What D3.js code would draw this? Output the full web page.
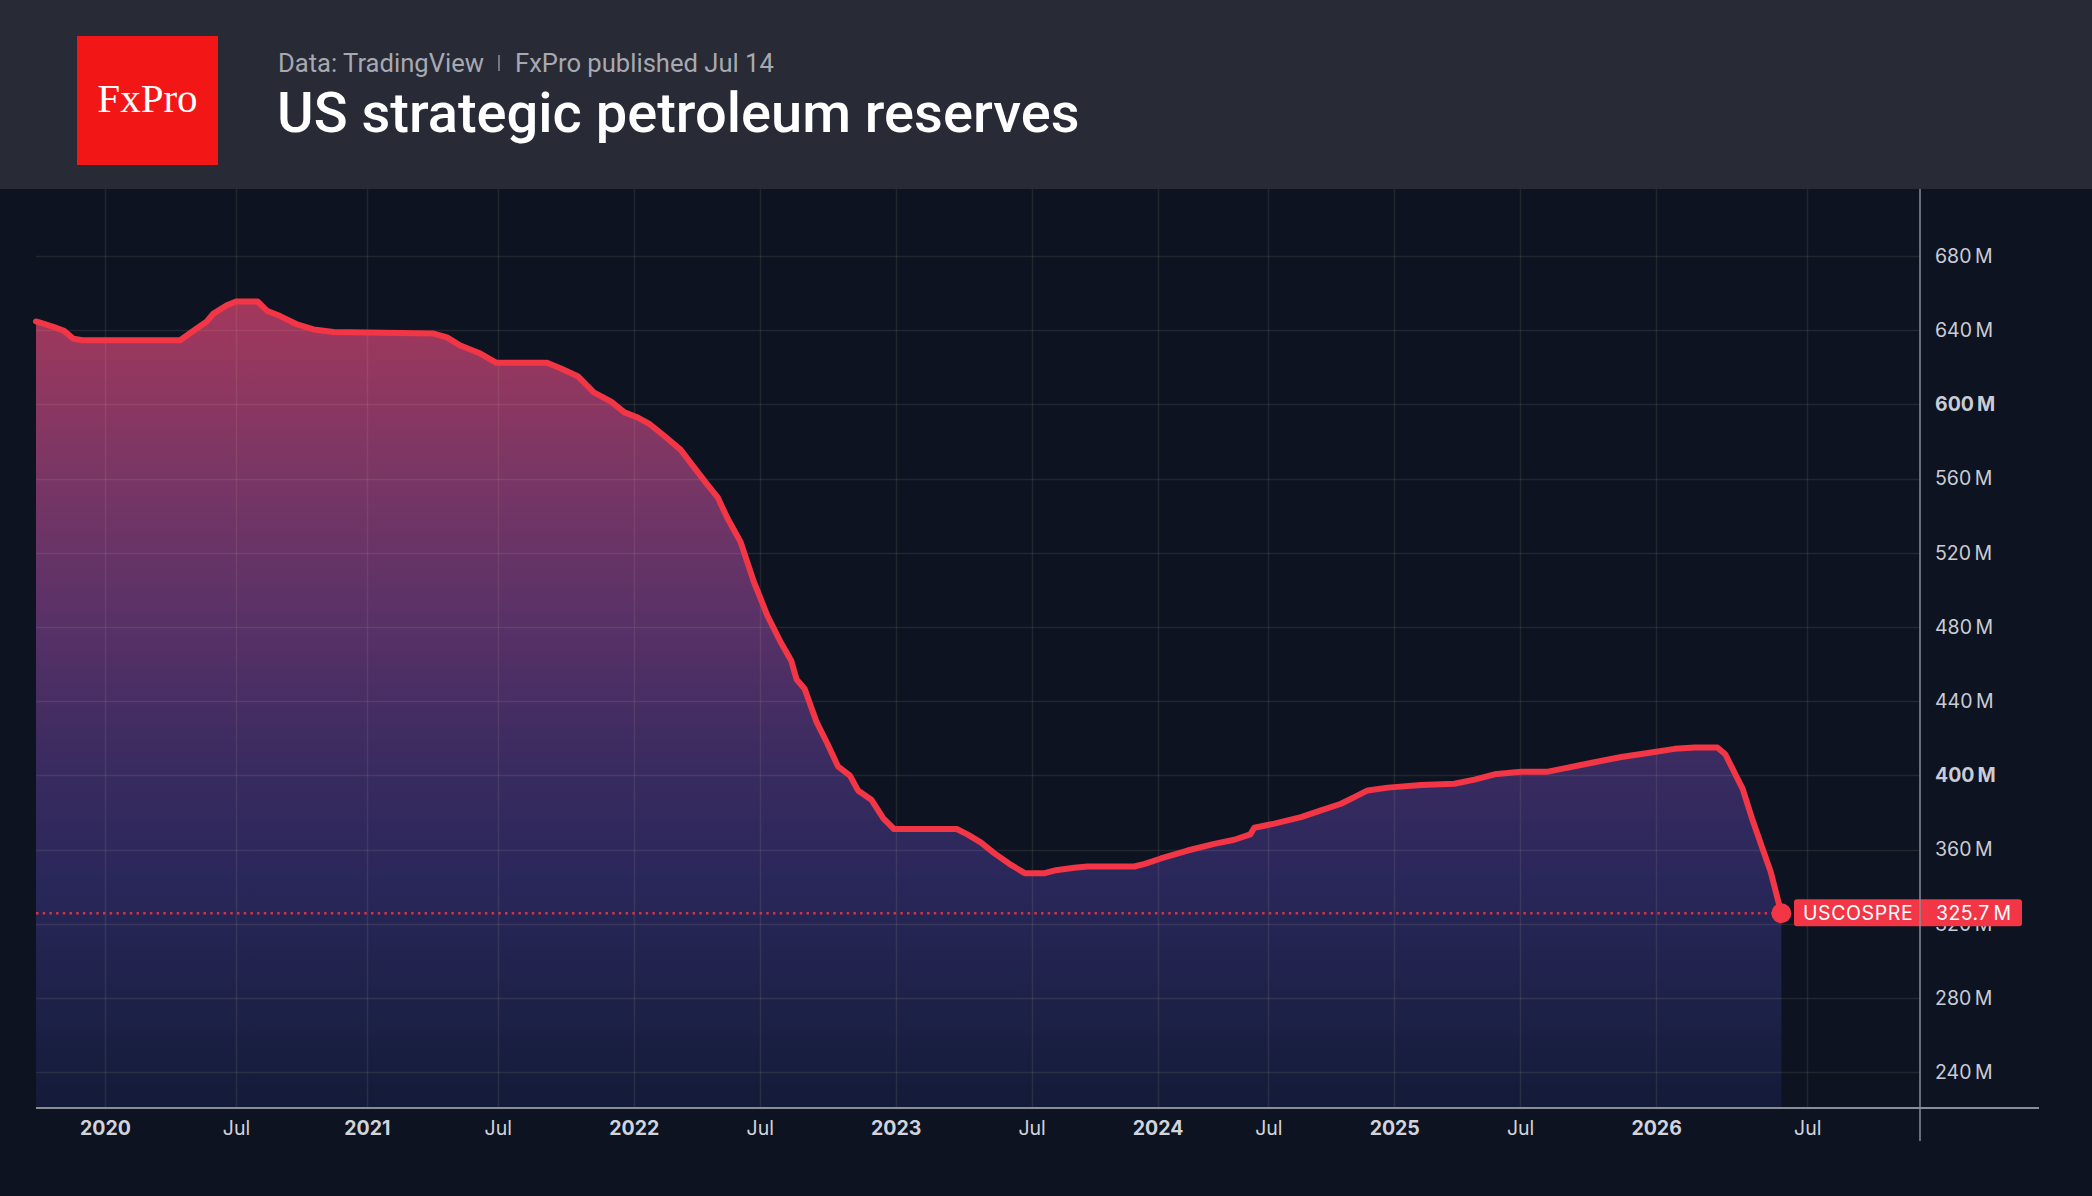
<!DOCTYPE html>
<html>
<head>
<meta charset="utf-8">
<script src="https://cdn.jsdelivr.net/npm/d3@7/dist/d3.min.js"></script>
<style>
  html, body { margin: 0; padding: 0; background: #0d1320; }
  svg { display: block; }
</style>
</head>
<body>
<svg id="chart" width="2092" height="1196"></svg>
<script>
// ---- Data (x = weekly bar index since first week of 2020, TradingView bar-indexed time axis) ----
const weekIndex = [-13.7, -10.25, -8.13, -6.28, -4.42, 14.92, 17.57, 20.22, 21.54, 24.19, 26.05, 30.29, 32.14, 34.79, 37.97, 41.42, 45.39, 65.26, 67.91, 70.56, 74.54, 77.72, 87.78, 90.43, 93.88, 97.06, 100.5, 103.15, 105.8, 108.19, 110.84, 114.28, 116.93, 119.58, 121.7, 123.55, 126.2, 128.85, 131.5, 134.15, 136.27, 137.33, 138.92, 141.31, 143.43, 145.54, 147.93, 149.52, 152.17, 154.55, 156.67, 169.13, 171.25, 173.9, 176.55, 179.99, 182.64, 186.61, 188.47, 192.44, 195.09, 204.37, 206.49, 209.67, 214.96, 220.26, 224.24, 227.42, 228.21, 232.19, 237.49, 241.46, 245.43, 248.08, 250.73, 254.71, 261.33, 267.96, 271.93, 275.91, 281.2, 286.5, 290.48, 295.78, 301.08, 306.38, 311.67, 315.65, 320.15, 321.74, 323.6, 325.19, 327.04, 328.9, 330.75, 332.87];
const reservesM = [644.7, 641.8, 639.7, 635.4, 634.6, 634.6, 639.7, 644.7, 649.0, 653.4, 655.5, 655.5, 650.5, 647.6, 643.3, 640.4, 639.0, 638.2, 636.1, 631.7, 627.4, 622.4, 622.4, 619.5, 615.2, 606.5, 601.5, 595.7, 592.9, 589.3, 583.5, 575.6, 566.2, 556.9, 549.7, 538.9, 525.9, 504.3, 486.3, 471.9, 461.8, 451.7, 446.7, 428.7, 417.2, 404.9, 399.9, 391.9, 386.9, 376.8, 371.1, 371.1, 368.2, 363.9, 358.1, 351.6, 347.3, 347.3, 348.7, 350.2, 350.9, 350.9, 352.3, 355.2, 359.5, 363.1, 365.3, 368.2, 371.8, 374.0, 377.5, 381.1, 384.7, 388.3, 391.9, 393.4, 394.8, 395.5, 397.7, 400.6, 402.0, 402.0, 404.2, 407.1, 409.9, 412.1, 414.3, 415.0, 415.0, 411.4, 401.3, 392.7, 376.8, 362.4, 348.0, 325.7];

const xTickWeeks = [0, 26, 52, 78, 105, 130, 157, 184, 209, 231, 256, 281, 308, 338];
const xTickLabels = ["2020", "Jul", "2021", "Jul", "2022", "Jul", "2023", "Jul", "2024", "Jul", "2025", "Jul", "2026", "Jul"];
const yTickValues = [240, 280, 320, 360, 400, 440, 480, 520, 560, 600, 640, 680];
const yBoldTicks = [400, 600];

const seriesName = "USCOSPRE";
const lastValue = 325.7;
const titleText = "US strategic petroleum reserves";
const sourceText = "Data: TradingView";
const publishText = "FxPro published Jul 14";
const logoText = "FxPro";

// ---- Layout ----
const W = 2092, H = 1196;
const headerH = 189;
const plotLeft = 36, plotRight = 1920, plotTop = 189, plotBottom = 1108;

const svg = d3.select("#chart");
const defs = svg.append("defs");

const x = d3.scaleLinear().domain([-13.7, 360.4]).range([plotLeft, plotRight]);
const y = d3.scaleLinear().domain([220.7, 716.1]).range([plotBottom, plotTop]);

const data = weekIndex.map((w, i) => ({ w, v: reservesM[i] }));

// background
svg.append("rect").attr("x", 0).attr("y", 0).attr("width", W).attr("height", H).attr("fill", "#0d1320");

// header
svg.append("rect").attr("x", 0).attr("y", 0).attr("width", W).attr("height", headerH).attr("fill", "#282a36");
svg.append("rect").attr("x", 77).attr("y", 36).attr("width", 141).attr("height", 129).attr("fill", "#f31616");
svg.append("text").attr("x", 147.5).attr("y", 112).attr("text-anchor", "middle")
  .attr("font-family", "'Liberation Serif', 'DejaVu Serif', serif").attr("font-size", 41)
  .attr("fill", "#ffffff").text(logoText);

const sub = svg.append("text").attr("x", 278).attr("y", 72)
  .attr("font-family", "Roboto, sans-serif").attr("font-size", 25.6).attr("fill", "#a7a9b1");
sub.append("tspan").text(sourceText);
sub.append("tspan").attr("dx", 31).text(publishText);
// separator
const srcW = (function(){ const t = svg.append("text").attr("font-family","Roboto, sans-serif").attr("font-size",25.6).text(sourceText); const w = t.node().getComputedTextLength(); t.remove(); return w; })();
svg.append("line").attr("x1", 278 + srcW + 15).attr("x2", 278 + srcW + 15).attr("y1", 55).attr("y2", 71)
  .attr("stroke", "#8d909a").attr("stroke-width", 1.5);

svg.append("text").attr("x", 277).attr("y", 132)
  .attr("font-family", "Roboto, sans-serif").attr("font-weight", 500).attr("font-size", 56)
  .attr("fill", "#ffffff").text(titleText);

// area gradient
const grad = defs.append("linearGradient").attr("id", "areaGrad")
  .attr("gradientUnits", "userSpaceOnUse").attr("x1", 0).attr("x2", 0)
  .attr("y1", y(655)).attr("y2", plotBottom);
[[0, "#a3385c"], [0.22, "#783665"], [0.4, "#583167"], [0.57, "#3a2b60"], [0.72, "#29275a"], [0.86, "#1e2249"], [1, "#131b38"]]
  .forEach(([o, c]) => grad.append("stop").attr("offset", o).attr("stop-color", c));

// area
const area = d3.area().x(d => x(d.w)).y0(plotBottom).y1(d => y(d.v));
svg.append("path").datum(data).attr("d", area).attr("fill", "url(#areaGrad)");

// grid
const gridColor = "rgba(225,205,180,0.10)";
svg.append("g").selectAll("line").data(yTickValues).join("line")
  .attr("x1", plotLeft).attr("x2", plotRight)
  .attr("y1", d => Math.round(y(d)) + 0.5).attr("y2", d => Math.round(y(d)) + 0.5)
  .attr("stroke", gridColor).attr("stroke-width", 1.5);
svg.append("g").selectAll("line").data(xTickWeeks).join("line")
  .attr("x1", d => Math.round(x(d)) + 0.5).attr("x2", d => Math.round(x(d)) + 0.5)
  .attr("y1", plotTop).attr("y2", plotBottom)
  .attr("stroke", gridColor).attr("stroke-width", 1.5);

// dotted last-value line
svg.append("line").attr("x1", plotLeft).attr("x2", x(weekIndex[weekIndex.length - 1]))
  .attr("y1", y(lastValue)).attr("y2", y(lastValue))
  .attr("stroke", "#f23645").attr("stroke-width", 2.5).attr("stroke-dasharray", "2.5 4.2").attr("opacity", 0.85);

// line
const line = d3.line().x(d => x(d.w)).y(d => y(d.v));
svg.append("path").datum(data).attr("d", line).attr("fill", "none")
  .attr("stroke", "#f23645").attr("stroke-width", 6)
  .attr("stroke-linejoin", "round").attr("stroke-linecap", "round");

// end dot
svg.append("circle").attr("cx", x(weekIndex[weekIndex.length - 1])).attr("cy", y(lastValue)).attr("r", 10).attr("fill", "#f23645");

// y axis labels
const yAxis = d3.axisRight(y).tickValues(yTickValues).tickSize(0).tickPadding(0)
  .tickFormat(d => d + "\u2009M");
const gy = svg.append("g").attr("transform", `translate(${plotRight + 15},0)`).call(yAxis);
gy.select(".domain").remove();
gy.selectAll("text").attr("font-family", "Inter, sans-serif").attr("font-size", 19.5)
  .attr("fill", "#c9ccd4").attr("font-weight", d => yBoldTicks.includes(d) ? 700 : 400);

// x axis labels
const xAxis = d3.axisBottom(x).tickValues(xTickWeeks).tickSize(0).tickPadding(0)
  .tickFormat((d, i) => xTickLabels[i]);
const gx = svg.append("g").attr("transform", `translate(0,${plotBottom + 13})`).call(xAxis);
gx.select(".domain").remove();
gx.selectAll("text").attr("font-family", "Inter, sans-serif").attr("font-size", 19.5)
  .attr("fill", "#d1d4dc").attr("font-weight", (d, i) => xTickLabels[i] === "Jul" ? 400 : 700);

// price tag
const tagY = y(lastValue);
svg.append("rect").attr("x", 1794).attr("y", tagY - 14).attr("width", 228).attr("height", 27).attr("rx", 3).attr("fill", "#f23645");
svg.append("text").attr("x", 1803).attr("y", tagY + 7).attr("font-family", "Inter, sans-serif").attr("font-size", 19.5)
  .attr("letter-spacing", 0.6).attr("fill", "#ffffff").text(seriesName);
svg.append("text").attr("x", plotRight + 16).attr("y", tagY + 7).attr("font-family", "Inter, sans-serif").attr("font-size", 19.5)
  .attr("letter-spacing", 0.4).attr("fill", "#ffffff").text(lastValue + "\u2009M");

// axis lines
svg.append("line").attr("x1", plotLeft).attr("x2", 2039).attr("y1", plotBottom).attr("y2", plotBottom)
  .attr("stroke", "#8a8d95").attr("stroke-width", 2);
svg.append("line").attr("x1", plotRight).attr("x2", plotRight).attr("y1", plotTop).attr("y2", 1141)
  .attr("stroke", "#8a8d95").attr("stroke-width", 1.5);
</script>
</body>
</html>
